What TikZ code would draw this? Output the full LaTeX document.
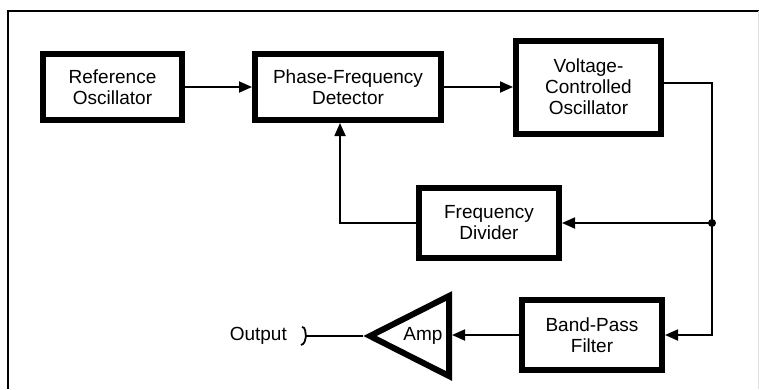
\documentclass[tikz,border=0pt]{standalone}
\usepackage{fontspec}
\setmainfont{Liberation Sans}
\usetikzlibrary{arrows.meta,calc}
\begin{document}
\begin{tikzpicture}[x=1pt,y=-1pt,
  txt/.style={font=\fontsize{19}{21}\selectfont, inner sep=0pt},
  blk/.style={txt, draw, line width=6pt, fill=white, align=center},
  conn/.style={line width=1.8pt},
  arr/.style={conn,-{Triangle[length=13pt,width=11pt]}},
]
\useasboundingbox (0,0) rectangle (759,389);
% frame
\draw[line width=2pt] (8,389) -- (8,11) -- (759,11);
\draw[line width=1pt, black!12] (758,11) -- (758,389);

% blocks
\node[blk, minimum width=139pt, minimum height=66pt] (ref) at (112.5,87) {Reference\\Oscillator};
\node[blk, minimum width=186pt, minimum height=66pt] (pfd) at (348,87) {Phase-Frequency\\Detector};
\node[blk, minimum width=145pt, minimum height=93pt] (vco) at (588.5,87) {Voltage-\\Controlled\\Oscillator};
\node[blk, minimum width=140pt, minimum height=70pt] (fd) at (489,223) {Frequency\\Divider};
\node[blk, minimum width=140pt, minimum height=70pt] (bpf) at (592,335) {Band-Pass\\Filter};

% amplifier
\coordinate (amptip) at (370,336);
\coordinate (ampt) at (449,296);
\coordinate (ampb) at (449,376);
\coordinate (ampR) at (452,336);
\coordinate (ampL) at (363,336);
\draw[line width=6pt, line join=miter] (amptip) -- (ampt) -- (ampb) -- cycle;
\node[txt] (amp) at (423,336) {Amp};

% output
\node[txt, anchor=east] (out) at (287,336) {Output};
\coordinate (term) at (306,336);
\draw[conn] (302,327) .. controls (306,327) and (305,333) .. (term)
            .. controls (305,340) and (305,344) .. (301,345);
\draw[conn] (term) -- (ampL);

% connectors
\draw[arr] (ref.east) -- (pfd.west);
\draw[arr] (pfd.east) -- (pfd.east -| vco.west);
\coordinate (c1) at (712,83);
\coordinate (dot) at (712,223);
\draw[conn] (vco.east |- c1) -- (c1) -- (dot);
\draw[arr] (dot) |- (bpf.east);
\draw[arr] (dot) -- (dot -| fd.east);
\fill (dot) circle (4pt);
\coordinate (c2) at (340,223);
\draw[arr] (fd.west) -- (c2) -- (c2 |- pfd.south);
\draw[arr] (bpf.west) -- (bpf.west -| ampR);
\end{tikzpicture}
\end{document}
